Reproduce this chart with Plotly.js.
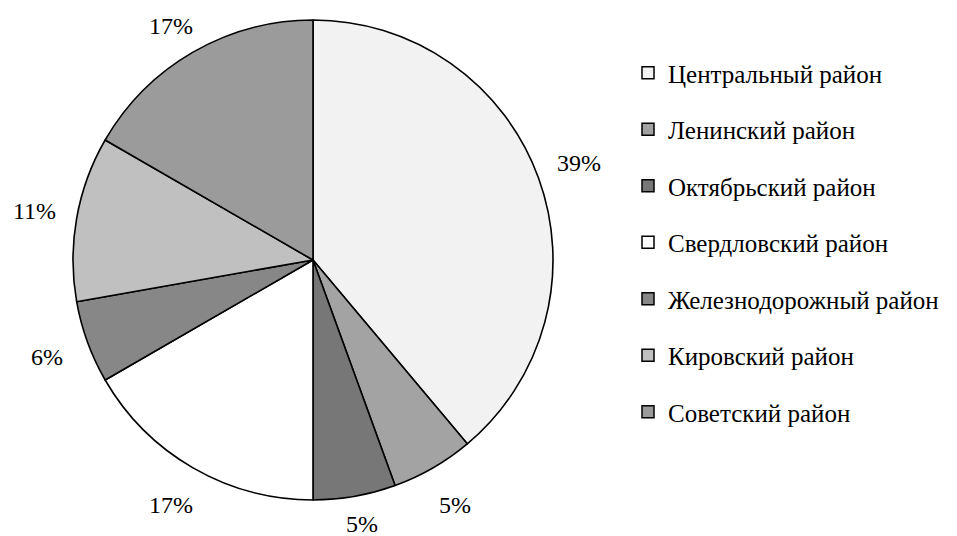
<!DOCTYPE html>
<html><head><meta charset="utf-8">
<script src="https://cdn.plot.ly/plotly-3.0.1.min.js"></script>
<style>body{margin:0;background:#fff}#chart{width:957px;height:536px}</style>
</head><body><div id="chart"></div>
<script>
const districts = ['Центральный район','Ленинский район','Октябрьский район','Свердловский район','Железнодорожный район','Кировский район','Советский район'];
const counts = [7, 1, 1, 3, 1, 2, 3];
const percentLabels = ['39%','5%','5%','17%','6%','11%','17%'];
const colors = ['#f2f2f2','#a3a3a3','#777777','#ffffff','#878787','#c0c0c0','#9b9b9b'];

const W = 957, H = 536, cx = 313, cy = 260, R = 240, RL = 283;
const FONT = "'Liberation Serif', 'Times New Roman', serif";

const pie = {
  type: 'pie', values: counts, labels: districts, sort: false,
  direction: 'clockwise', rotation: 0, textinfo: 'none', showlegend: false,
  hoverinfo: 'label+percent',
  marker: {colors: colors, line: {color: '#000', width: 1.6}},
  domain: {x: [(cx - R) / W, (cx + R) / W], y: [1 - (cy + R) / H, 1 - (cy - R) / H]}
};

const legendTraces = districts.map((d, i) => ({
  type: 'scatter', x: [null], y: [null], mode: 'markers', name: d,
  legendgroup: 'g' + i, hoverinfo: 'skip',
  marker: {symbol: 'square', size: 12, color: colors[i], line: {color: '#000', width: 1.5}}
}));

const total = counts.reduce((a, b) => a + b, 0);
let cum = 0;
const annotations = counts.map((v, i) => {
  const mid = (cum + v / 2) / total * 2 * Math.PI;
  cum += v;
  let px = cx + RL * Math.sin(mid);
  let py = cy - RL * Math.cos(mid);
  py = Math.min(Math.max(py, 26), H - 12);
  return {text: percentLabels[i], x: px / W, y: 1 - py / H, xref: 'paper', yref: 'paper',
    xanchor: 'center', yanchor: 'middle', showarrow: false,
    font: {family: FONT, size: 24, color: '#000'}};
});

const layout = {
  width: W, height: H, margin: {l: 0, r: 0, t: 0, b: 0},
  paper_bgcolor: '#fff', plot_bgcolor: '#fff',
  font: {family: FONT},
  xaxis: {visible: false}, yaxis: {visible: false},
  showlegend: true,
  legend: {x: 628 / W, xanchor: 'left', y: 1 - 50 / H, yanchor: 'top',
    font: {family: FONT, size: 25, color: '#000'}, tracegroupgap: 21,
    traceorder: 'grouped', itemsizing: 'trace', bgcolor: 'rgba(0,0,0,0)'},
  annotations: annotations
};

Plotly.newPlot('chart', [pie, ...legendTraces], layout, {displayModeBar: false, staticPlot: true});
</script></body></html>
